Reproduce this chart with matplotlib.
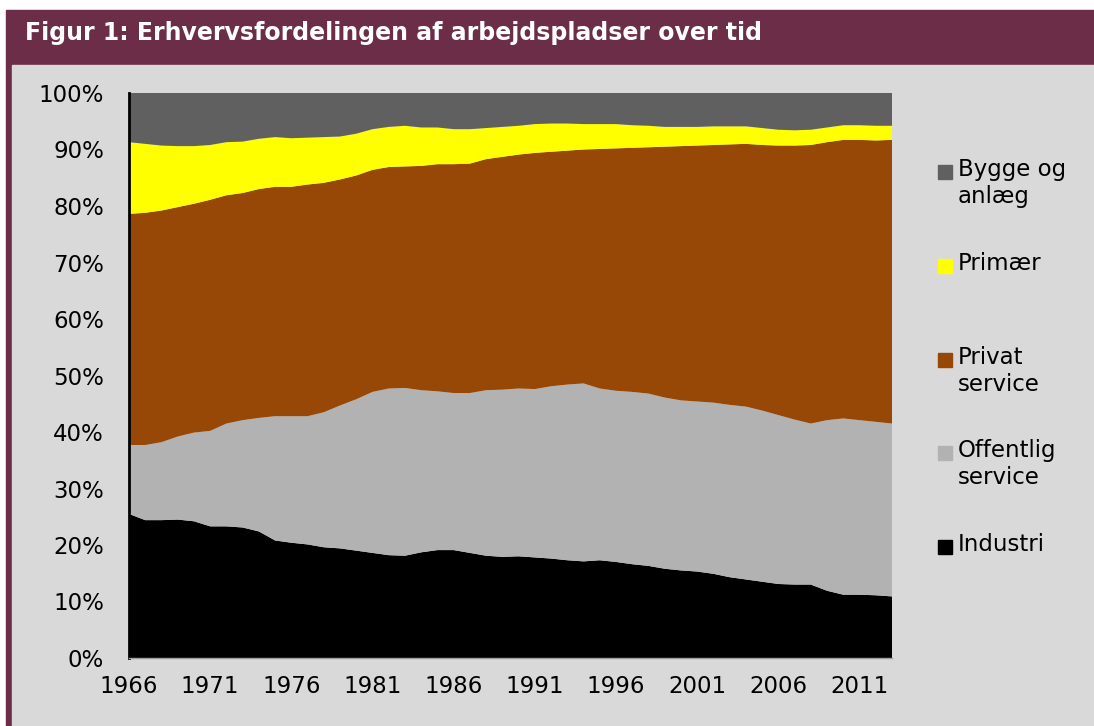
import matplotlib.pyplot as plt
from matplotlib.patches import Rectangle
from matplotlib.ticker import PercentFormatter

MAROON = "#6B2D47"
PANEL = "#D9D9D9"

years = list(range(1966, 2014))

# shares in percent
industri = [25.5, 24.4, 24.4, 24.5, 24.2, 23.3, 23.3, 23.1, 22.4, 20.8, 20.4, 20.1,
            19.6, 19.4, 19.0, 18.6, 18.2, 18.1, 18.7, 19.1, 19.1, 18.6, 18.1, 17.9,
            18.0, 17.8, 17.6, 17.3, 17.1, 17.3, 17.0, 16.6, 16.3, 15.8, 15.5, 15.3,
            14.9, 14.3, 13.9, 13.5, 13.1, 13.0, 13.0, 11.9, 11.2, 11.2, 11.1, 10.9]
offentlig = [12.2, 13.3, 13.8, 14.7, 15.7, 16.9, 18.2, 19.0, 20.1, 22.0, 22.4, 22.7,
             23.9, 25.3, 26.8, 28.5, 29.5, 29.7, 28.7, 28.1, 27.8, 28.3, 29.3, 29.6,
             29.7, 29.8, 30.5, 31.1, 31.5, 30.4, 30.3, 30.5, 30.5, 30.3, 30.1, 30.1,
             30.3, 30.5, 30.6, 30.3, 29.9, 29.2, 28.5, 30.2, 31.2, 30.9, 30.7, 30.6]
privat = [40.9, 41.1, 41.0, 40.6, 40.5, 40.9, 40.4, 40.2, 40.5, 40.6, 40.6, 41.0,
          40.6, 40.0, 39.6, 39.3, 39.2, 39.2, 39.7, 40.2, 40.5, 40.6, 40.9, 41.2,
          41.4, 41.8, 41.5, 41.4, 41.4, 42.4, 42.9, 43.2, 43.6, 44.4, 45.0, 45.3,
          45.6, 46.1, 46.5, 47.0, 47.7, 48.5, 49.3, 49.2, 49.3, 49.6, 49.8, 50.2]
primaer = [12.7, 12.2, 11.5, 10.8, 10.2, 9.7, 9.4, 9.1, 8.9, 8.8, 8.6, 8.3,
           8.1, 7.6, 7.4, 7.2, 7.1, 7.2, 6.8, 6.5, 6.2, 6.1, 5.5, 5.3,
           5.1, 5.1, 5.0, 4.8, 4.5, 4.4, 4.3, 4.0, 3.8, 3.5, 3.4, 3.3,
           3.3, 3.2, 3.1, 3.0, 2.8, 2.7, 2.7, 2.6, 2.6, 2.6, 2.6, 2.5]
bygge = [8.7, 9.0, 9.3, 9.4, 9.4, 9.2, 8.7, 8.6, 8.1, 7.8, 8.0, 7.9,
         7.8, 7.7, 7.2, 6.4, 6.0, 5.8, 6.1, 6.1, 6.4, 6.4, 6.2, 6.0,
         5.8, 5.5, 5.4, 5.4, 5.5, 5.5, 5.5, 5.7, 5.8, 6.0, 6.0, 6.0,
         5.9, 5.9, 5.9, 6.2, 6.5, 6.6, 6.5, 6.1, 5.7, 5.7, 5.8, 5.8]

labels = ["Industri", "Offentlig\nservice", "Privat\nservice", "Primær", "Bygge og\nanlæg"]
colors = ["#000000", "#B2B2B2", "#974706", "#FFFF00", "#606060"]

plt.rcParams['font.family'] = ['DejaVu Sans']

fig = plt.figure(figsize=(10.94, 7.26), dpi=100, facecolor="white")

# frame: title bar + grey panel
fig.patches.append(Rectangle((6 / 1094, 0), 1 - 6 / 1094, 1 - 10 / 726,
                             transform=fig.transFigure, color=MAROON, zorder=-2))
fig.patches.append(Rectangle((12 / 1094, 0), 1 - 12 / 1094, 1 - 65 / 726,
                             transform=fig.transFigure, color=PANEL, zorder=-1))
fig.text(25 / 1094, 1 - 33 / 726, "Figur 1: Erhvervsfordelingen af arbejdspladser over tid",
         color="white", fontsize=17, fontweight="bold", va="center", ha="left")

ax = fig.add_axes([129 / 1094, 1 - 658 / 726, 763 / 1094, 565 / 726])
ax.set_zorder(5)
ax.stackplot(years, industri, offentlig, privat, primaer, bygge, colors=colors, linewidth=0)

ax.set_xlim(1966, 2013)
ax.set_ylim(0, 100)
ax.set_xticks(years[::5])
ax.set_yticks(range(0, 101, 10))
ax.yaxis.set_major_formatter(PercentFormatter(decimals=0))
ax.tick_params(axis="both", length=0, labelsize=16.5, colors="black")
ax.tick_params(axis="y", pad=18)
ax.tick_params(axis="x", pad=12)
ax.set_facecolor(PANEL)
for side in ["top", "right"]:
    ax.spines[side].set_visible(False)
ax.spines["left"].set_linewidth(2)
ax.spines["left"].set_color("black")
ax.spines["bottom"].set_color("#A0A0A0")
ax.spines["bottom"].set_linewidth(1)

# legend, top to bottom
legend_y = [172, 266, 360, 453, 547]
for lab, col, yy in zip(labels[::-1], colors[::-1], legend_y):
    fig.patches.append(Rectangle((938 / 1094, 1 - (yy + 7) / 726), 14 / 1094, 14 / 726,
                                 transform=fig.transFigure, color=col, zorder=2))
    fig.text(958 / 1094, 1 - (yy - 14) / 726, lab, fontsize=16.5, va="top", ha="left",
             linespacing=1.2)

fig.savefig("out.png", dpi=100, facecolor=fig.get_facecolor())
